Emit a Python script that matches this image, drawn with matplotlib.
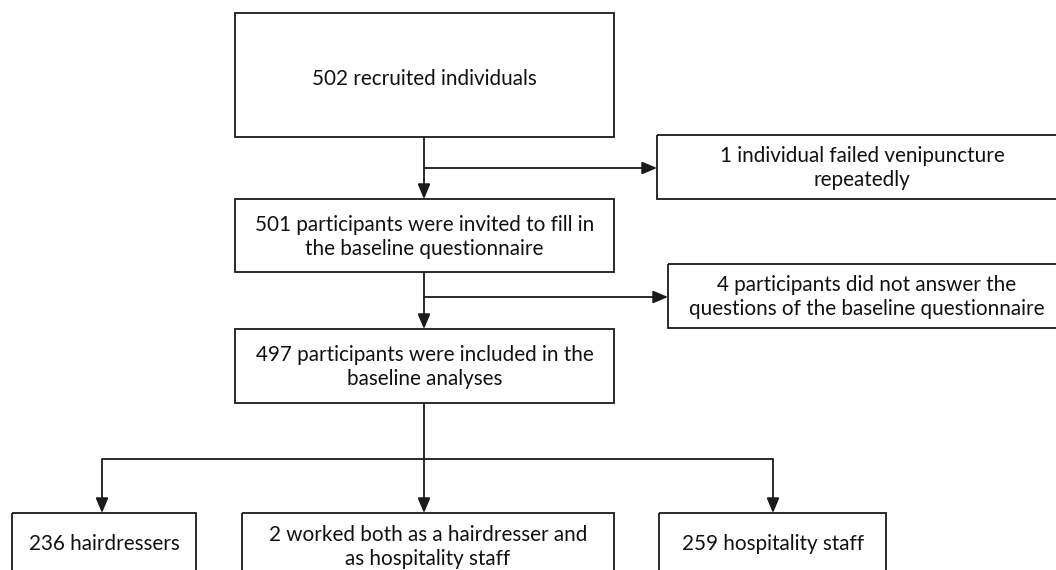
import matplotlib
matplotlib.use('Agg')
import matplotlib.pyplot as plt
from matplotlib.patches import Rectangle

# ---------------------------------------------------------#
# Flowchart content                                        #
# ---------------------------------------------------------#
recruited = 502
failed_venipuncture = 1
invited = recruited - failed_venipuncture
no_answer = 4
included = invited - no_answer
hairdressers = 236
both = 2
hospitality = 259

box_texts = [
    f'{recruited} recruited individuals',
    f'{failed_venipuncture} individual failed venipuncture\nrepeatedly',
    f'{invited} participants were invited to fill in\nthe baseline questionnaire',
    f'{no_answer} participants did not answer the\nquestions of the baseline questionnaire',
    f'{included} participants were included in the\nbaseline analyses',
    f'{hairdressers} hairdressers',
    f'{both} worked both as a hairdresser and\nas hospitality staff',
    f'{hospitality} hospitality staff',
]

# ---------------------------------------------------------#
# Layout (pixels, origin top-left)                         #
# ---------------------------------------------------------#
# x0, y0, x1, y1, text y-center
boxes = [
    (235, 13, 614, 137, 79),
    (657, 135, 1067, 199, 168),
    (235, 199, 614, 272, 237),
    (668, 264, 1066, 328, 297),
    (235, 329, 614, 403, 367),
    (12, 513, 196, 600, 544),
    (242, 513, 614, 600, 547),
    (659, 513, 886, 600, 544),
]

line_color = '#1a1a1a'
lw = 1.3
font = {'family': 'Lato', 'size': 14.9, 'color': '#111111'}

fig = plt.figure(figsize=(10.56, 5.70), dpi=100)
ax = fig.add_axes([0, 0, 1, 1])
ax.set_xlim(0, 1056)
ax.set_ylim(570, 0)
ax.axis('off')

for (x0, y0, x1, y1, ty), txt in zip(boxes, box_texts):
    ax.add_patch(Rectangle((x0, y0), x1 - x0, y1 - y0, fill=False,
                           edgecolor=line_color, linewidth=lw))
    ax.text((x0 + x1) / 2, ty, txt, ha='center', va='center',
            linespacing=1.3, fontdict=font)


def arrow(x0, y0, x1, y1):
    ax.annotate('', xy=(x1, y1), xytext=(x0, y0),
                arrowprops=dict(arrowstyle='-|>,head_length=0.9,head_width=0.38',
                                color=line_color, lw=lw,
                                shrinkA=0, shrinkB=0))


def line(xs, ys):
    ax.plot(xs, ys, color=line_color, linewidth=lw, solid_capstyle='butt')


cx = 424
# main spine
arrow(cx, 137, cx, 199)
arrow(cx, 168, 657, 168)
arrow(cx, 272, cx, 329)
arrow(cx, 297, 668, 297)

# split into three groups
line([cx, cx], [403, 459])
line([102, 773], [459, 459])
arrow(102, 459, 102, 513)
arrow(cx, 459, cx, 513)
arrow(773, 459, 773, 513)

fig.savefig('out.png', dpi=100)
